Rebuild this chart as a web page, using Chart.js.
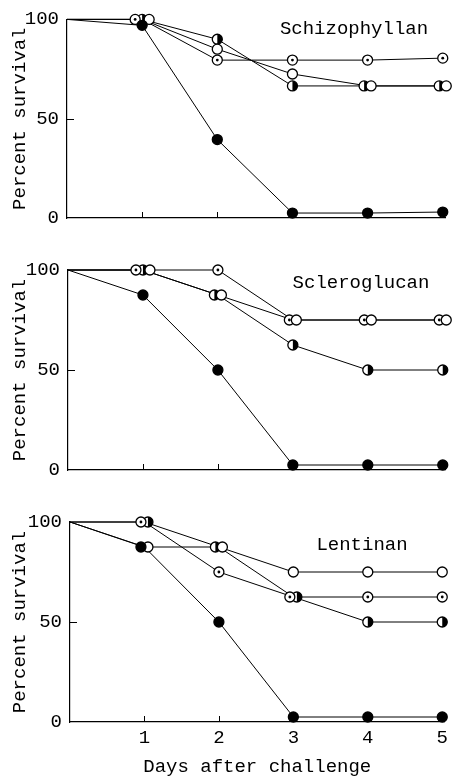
<!DOCTYPE html>
<html>
<head>
<meta charset="utf-8">
<script src="https://cdn.jsdelivr.net/npm/chart.js@4.4.1/dist/chart.umd.min.js"></script>
<style>
    body{margin:0;background:#fff;width:453px;height:778px;position:relative;overflow:hidden}
    canvas{position:absolute;left:0}
</style>
</head>
<body>
<canvas id="grafico1" width="453" height="240" style="top:0"></canvas>
<canvas id="grafico2" width="453" height="240" style="top:250px"></canvas>
<canvas id="grafico3" width="453" height="278" style="top:500px"></canvas>
<script>
// days after challenge
const days = [0, 1, 2, 3, 4, 5];
const dayTicks = [1, 2, 3, 4, 5];
const survivalTicks = [0, 50, 100];

// Schizophyllan
const schFilled = [100, 97, 39.5, 2.5, 2.5, 3];
const schOpen   = [100, 100, 85, 72.5, 66.5, 66.5];
const schDot    = [100, 100, 79.5, 79.5, 79.5, 80.5];
const schHalf   = [100, 100, 90, 66.5, 66.5, 66.5];

// Scleroglucan
const sclFilled = [100, 87.5, 50, 2.5, 2.5, 2.5];
const sclOpen   = [100, 100, 87.5, 75, 75, 75];
const sclDot    = [100, 100, 100, 75, 75, 75];
const sclHalf   = [100, 100, 87.5, 62.5, 50, 50];

// Lentinan
const lenFilled = [100, 87.5, 50, 2.5, 2.5, 2.5];
const lenOpen   = [100, 87.5, 87.5, 75, 75, 75];
const lenDot    = [100, 100, 75, 62.5, 62.5, 62.5];
const lenHalf   = [100, 100, 87.5, 62.5, 50, 50];

const FONT = "'Liberation Mono', 'DejaVu Sans Mono', monospace";
Chart.defaults.font.family = FONT;
Chart.defaults.font.size = 19;
Chart.defaults.color = '#000';

// marker kinds, in left-to-right order when two of them fall on the same spot
const kinds = ['filled', 'dot', 'half', 'open'];

function drawMarker(ctx, kind, x, y){
    let r = 5;
    ctx.lineWidth = 1.3;
    ctx.strokeStyle = '#000';
    ctx.beginPath();
    ctx.arc(x, y, r, 0, Math.PI * 2);
    ctx.fillStyle = kind == 'filled' ? '#000' : '#fff';
    ctx.fill();
    if (kind == 'half') {
        ctx.beginPath();
        ctx.moveTo(x, y - r);
        ctx.arc(x, y, r, -Math.PI / 2, Math.PI / 2);
        ctx.closePath();
        ctx.fillStyle = '#000';
        ctx.fill();
    }
    ctx.beginPath();
    ctx.arc(x, y, r, 0, Math.PI * 2);
    ctx.stroke();
    if (kind == 'dot') {
        ctx.beginPath();
        ctx.arc(x, y, 1.4, 0, Math.PI * 2);
        ctx.fillStyle = '#000';
        ctx.fill();
    }
}

function serie(values, kind){
    return {
        kind: kind,
        data: days.map((d, i) => ({x: d, y: values[i]})),
        borderColor: '#000',
        borderWidth: 1,
        pointRadius: 0,
        pointHoverRadius: 0,
        clip: false,
        tension: 0
    };
}

// markers on top of the lines, nudged sideways where several coincide
const markerPlugin = {
    id: 'markerPlugin',
    afterDatasetsDraw(chart){
        let ctx = chart.ctx;
        let metas = chart.data.datasets.map((ds, i) => chart.getDatasetMeta(i));
        ctx.save();
        let order = chart.data.datasets.map((ds, i) => i).reverse();
        order.forEach(i => {
            let ds = chart.data.datasets[i];
            metas[i].data.forEach((pt, j) => {
                if (j === 0) return;
                let same = chart.data.datasets
                    .map((o, k) => k)
                    .filter(k => Math.abs(metas[k].data[j].y - pt.y) < 2)
                    .sort((a, b) => kinds.indexOf(chart.data.datasets[a].kind) - kinds.indexOf(chart.data.datasets[b].kind));
                let pos = same.indexOf(i);
                let shift = (pos - (same.length - 1) / 2) * 7;
                drawMarker(ctx, ds.kind, pt.x + shift, pt.y);
            });
        });
        ctx.restore();
    }
};

// small tick marks pointing into the plot, and the panel name
const panelExtras = {
    id: 'panelExtras',
    afterDraw(chart, args, opts){
        let ctx = chart.ctx;
        let xs = chart.scales.x, ys = chart.scales.y;
        let a = chart.chartArea;
        ctx.save();
        ctx.strokeStyle = '#000';
        ctx.lineWidth = 1;
        ctx.beginPath();
        dayTicks.forEach(d => {
            let px = Math.round(xs.getPixelForValue(d)) + 0.5;
            ctx.moveTo(px, a.bottom);
            ctx.lineTo(px, a.bottom - 6);
        });
        let py = Math.round(ys.getPixelForValue(50)) + 0.5;
        ctx.moveTo(a.left, py);
        ctx.lineTo(a.left + 7, py);
        ctx.stroke();
        ctx.fillStyle = '#000';
        ctx.font = '19px ' + FONT;
        ctx.textAlign = 'center';
        ctx.textBaseline = 'middle';
        ctx.fillText(opts.text, opts.cx, a.top + opts.dy);
        ctx.restore();
    }
};

function panel(id, name, series, p){
    new Chart(document.getElementById(id), {
        type: 'line',
        data: {datasets: [
            serie(series[0], 'filled'),
            serie(series[1], 'open'),
            serie(series[2], 'dot'),
            serie(series[3], 'half')
        ]},
        options: {
            responsive: false,
            animation: false,
            events: [],
            layout: {padding: {top: p.top, right: 8, left: 0, bottom: 0}},
            plugins: {
                legend: {display: false},
                tooltip: {enabled: false},
                panelExtras: {text: name, cx: p.cx, dy: p.dy}
            },
            scales: {
                x: {
                    type: 'linear', min: 0, max: 5.03,
                    afterBuildTicks: s => { s.ticks = dayTicks.map(v => ({value: v})); },
                    ticks: {display: p.labels, padding: 5, maxRotation: 0, autoSkip: false},
                    grid: {drawOnChartArea: false, drawTicks: false},
                    border: {color: '#000', width: 1.2},
                    title: {display: p.labels, text: 'Days after challenge', padding: {top: 0, bottom: 0}},
                    afterFit: s => { s.height = p.xh; }
                },
                y: {
                    min: 0, max: 100,
                    afterBuildTicks: s => { s.ticks = survivalTicks.map(v => ({value: v})); },
                    ticks: {padding: 8},
                    grid: {drawOnChartArea: false, drawTicks: false},
                    border: {color: '#000', width: 1.2},
                    title: {display: true, text: 'Percent survival', padding: {top: 9, bottom: 0}},
                    afterFit: s => { s.width = p.left; }
                }
            }
        },
        plugins: [markerPlugin, panelExtras]
    });
}

panel('grafico1', 'Schizophyllan', [schFilled, schOpen, schDot, schHalf],
      {top: 15, left: 67, xh: 22, labels: false, cx: 354, dy: 10});
panel('grafico2', 'Scleroglucan', [sclFilled, sclOpen, sclDot, sclHalf],
      {top: 20, left: 68, xh: 20, labels: false, cx: 361, dy: 13});
panel('grafico3', 'Lentinan', [lenFilled, lenOpen, lenDot, lenHalf],
      {top: 22, left: 70, xh: 56, labels: true, cx: 362, dy: 23});
</script>
</body>
</html>
